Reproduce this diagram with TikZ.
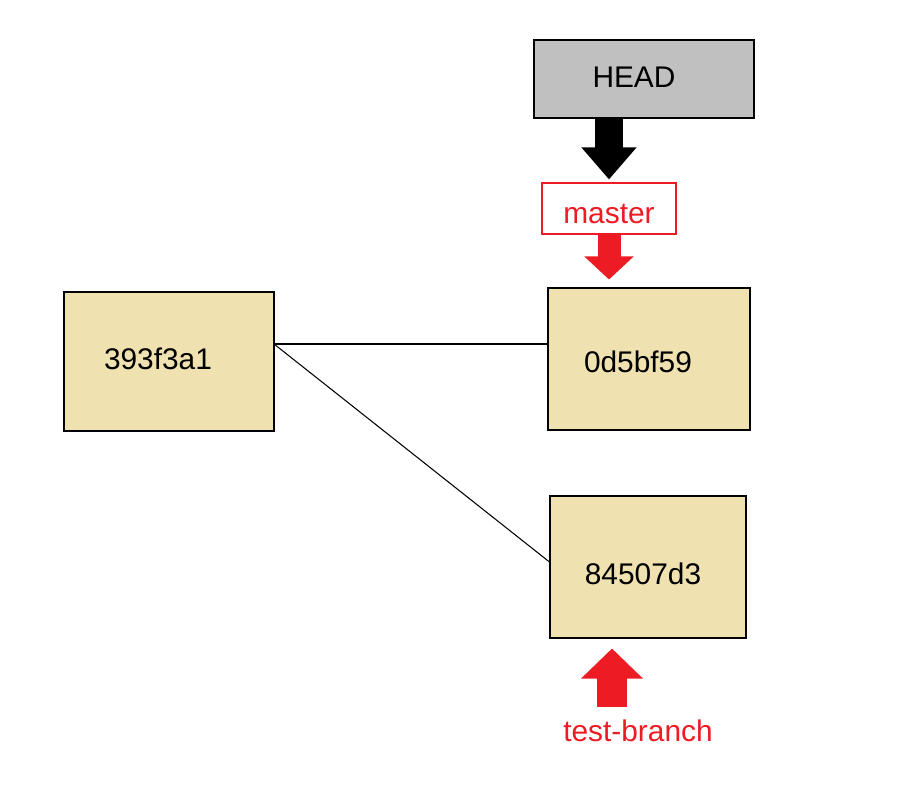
\documentclass[tikz,border=0pt]{standalone}
\usepackage{fontspec}
\setmainfont{Liberation Sans}
\usetikzlibrary{arrows.meta}
\definecolor{commitfill}{RGB}{239,226,176}
\definecolor{headfill}{RGB}{192,192,192}
\definecolor{refred}{RGB}{237,28,36}
\tikzset{
  boxtext/.style={inner sep=0pt, font=\fontsize{17}{20}\selectfont},
  commit/.style={draw=black, fill=commitfill, line width=0.6pt, inner sep=0pt},
  headbox/.style={draw=black, fill=headfill, line width=0.6pt, inner sep=0pt},
  refbox/.style={draw=refred, fill=white, line width=0.6pt, inner sep=0pt},
  reflabel/.style={boxtext, text=refred},
  fatblack/.style={black, line width=0.56cm, -{Triangle[width=1.06cm, length=0.64cm]}},
  fatred/.style={refred, line width=0.46cm, -{Triangle[width=0.96cm, length=0.46cm]}},
  fatredup/.style={refred, line width=0.6cm, -{Triangle[width=1.2cm, length=0.6cm]}}
}

\begin{document}
\begin{tikzpicture}[x=0.02cm, y=-0.02cm]
\useasboundingbox (0,0) rectangle (924,794);

% refs
\node[headbox, minimum width=4.4cm, minimum height=1.56cm,
  label={[boxtext, shift={(-10,-2)}]center:HEAD}] (head) at (644,79) {};
\node[refbox, minimum width=2.68cm, minimum height=1.02cm,
  label={[reflabel, shift={(0,5)}]center:master}] (master) at (609,208.5) {};
\node[reflabel] (tb) at (638,731) {test-branch};

% commits
\node[commit, minimum width=4.2cm, minimum height=2.78cm,
  label={[boxtext, shift={(-11,-3)}]center:393f3a1}] (c393) at (169,361.5) {};
\node[commit, minimum width=4.04cm, minimum height=2.84cm,
  label={[boxtext, shift={(-11,3)}]center:0d5bf59}] (c0d5) at (649,359) {};
\node[commit, minimum width=3.92cm, minimum height=2.84cm,
  label={[boxtext, shift={(-5,7)}]center:84507d3}] (c845) at (648,567) {};

% edges
\coordinate (fork) at (274,344);
\draw[line width=0.6pt] (fork) -- (fork -| c0d5.west);
\draw[line width=0.6pt] (fork) -- (c845.west |- 0,562);

% pointers
\draw[fatblack, shorten >=0.06cm] (head.south -| master.north) -- (master.north);
\draw[fatred, shorten >=0.16cm] (master.south) -- (master.south |- c0d5.north);
\coordinate (tbtail) at (612,707);
\draw[fatredup, shorten >=0.2cm] (tbtail) -- (tbtail |- c845.south);
\end{tikzpicture}
\end{document}
